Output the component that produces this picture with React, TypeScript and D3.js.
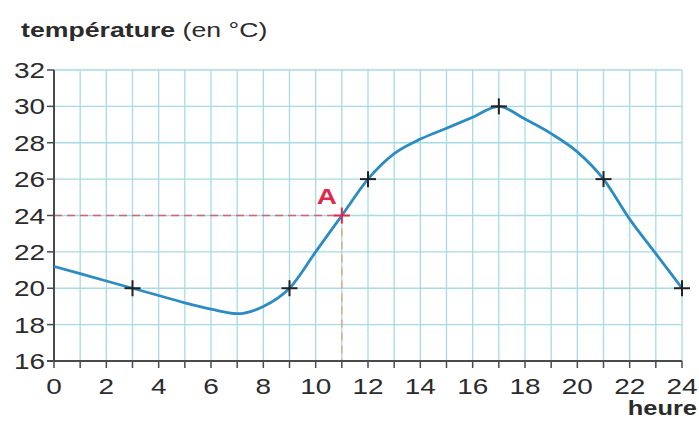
import React from 'react';
import * as d3 from 'd3';

const hours = [0, 1, 2, 3, 4, 5, 6, 7, 8, 9, 10, 11, 12, 13, 14, 15, 16, 17, 18, 19, 20, 21, 22, 23, 24];
const temps = [21.2, 20.8, 20.4, 20, 19.6, 19.2, 18.85, 18.6, 19.0, 20, 22, 24, 26, 27.4, 28.2, 28.8, 29.4, 30, 29.3, 28.5, 27.5, 26, 23.8, 21.9, 20];
const marked = [[3, 20], [9, 20], [12, 26], [17, 30], [21, 26], [24, 20]];
const pointA = { h: 11, t: 24, label: 'A' };
const xTickLabels = [0, 2, 4, 6, 8, 10, 12, 14, 16, 18, 20, 22, 24];
const yTickLabels = [16, 18, 20, 22, 24, 26, 28, 30, 32];

// the picture is a bit wider than tall, text gets stretched the same way
const SX = 1.27;

function T(props: { x: number; y: number; anchor?: string; size: number; bold?: boolean; fill: string; children: React.ReactNode }) {
  return (
    <text
      transform={'translate(' + props.x + ',' + props.y + ') scale(' + SX + ',1)'}
      textAnchor={props.anchor || 'start'}
      fontSize={props.size}
      fontWeight={props.bold ? 'bold' : 'normal'}
      fill={props.fill}
    >
      {props.children}
    </text>
  );
}

export default function App() {
  const W = 699, H = 422;
  const x = d3.scaleLinear().domain([0, 24]).range([54, 682]);
  const y = d3.scaleLinear().domain([16, 32]).range([361, 70]);

  const line = d3.line<number>()
    .x((d, i) => x(hours[i]))
    .y(d => y(d))
    .curve(d3.curveMonotoneX);

  const grid = '#a6dbe6';
  const axis = '#4a4a4a';
  const text = '#2b2b2b';
  const red = '#e0284a';
  const font = '"Liberation Sans", Arial, sans-serif';

  const cross = (h: number, t: number, color: string, key: string) => {
    const cx = x(h), cy = y(t), s = 8;
    return (
      <g key={key} stroke={color} strokeWidth={2}>
        <line x1={cx - s} x2={cx + s} y1={cy} y2={cy} />
        <line x1={cx} x2={cx} y1={cy - s} y2={cy + s} />
      </g>
    );
  };

  return (
    <svg width={W} height={H} style={{ position: 'absolute', left: 0, top: 0, background: '#fff' }} fontFamily={font}>
      {/* grid */}
      {d3.range(0, 25).map(h => (
        <line key={'v' + h} x1={x(h)} x2={x(h)} y1={y(32)} y2={y(16)} stroke={grid} strokeWidth={1.3} />
      ))}
      {d3.range(16, 33, 2).map(t => (
        <line key={'h' + t} x1={x(0)} x2={x(24)} y1={y(t)} y2={y(t)} stroke={grid} strokeWidth={1.3} />
      ))}

      {/* reading lines for A */}
      <line x1={x(0)} x2={x(pointA.h)} y1={y(pointA.t)} y2={y(pointA.t)} stroke="#d9646e" strokeWidth={1.3} strokeDasharray="8,5" />
      <line x1={x(pointA.h)} x2={x(pointA.h)} y1={y(pointA.t)} y2={y(16)} stroke="#e8a070" strokeWidth={1.3} strokeDasharray="8,5" />

      {/* axes */}
      <line x1={x(0)} x2={x(0)} y1={y(32)} y2={y(16)} stroke={axis} strokeWidth={2} />
      <line x1={47} x2={x(24)} y1={y(16)} y2={y(16)} stroke={axis} strokeWidth={2} />
      {yTickLabels.map(t => (
        <g key={'yt' + t}>
          <line x1={47} x2={x(0)} y1={y(t)} y2={y(t)} stroke={axis} strokeWidth={1.5} />
          <T x={45} y={y(t) + 8} anchor="end" size={22} fill={text}>{t}</T>
        </g>
      ))}
      {d3.range(0, 25).map(h => (
        <line key={'xt' + h} x1={x(h)} x2={x(h)} y1={y(16)} y2={y(16) + 7} stroke={axis} strokeWidth={1.5} />
      ))}
      {xTickLabels.map(h => (
        <T key={'xl' + h} x={x(h)} y={394} anchor="middle" size={22} fill={text}>{h}</T>
      ))}

      {/* curve */}
      <path d={line(temps) || ''} fill="none" stroke="#2b8cc4" strokeWidth={2.8} />

      {/* marks */}
      {marked.map(([h, t]) => cross(h, t, '#222', 'm' + h))}
      {cross(pointA.h, pointA.t, red, 'A')}
      <T x={x(pointA.h) - 5} y={y(pointA.t) - 12} anchor="end" size={22} bold fill={red}>{pointA.label}</T>

      {/* titles */}
      <T x={21} y={37} size={21} fill={text}>
        <tspan fontWeight="bold">température</tspan>
        <tspan> (en °C)</tspan>
      </T>
      <T x={697} y={415} anchor="end" size={20} bold fill={text}>heure</T>
    </svg>
  );
}
